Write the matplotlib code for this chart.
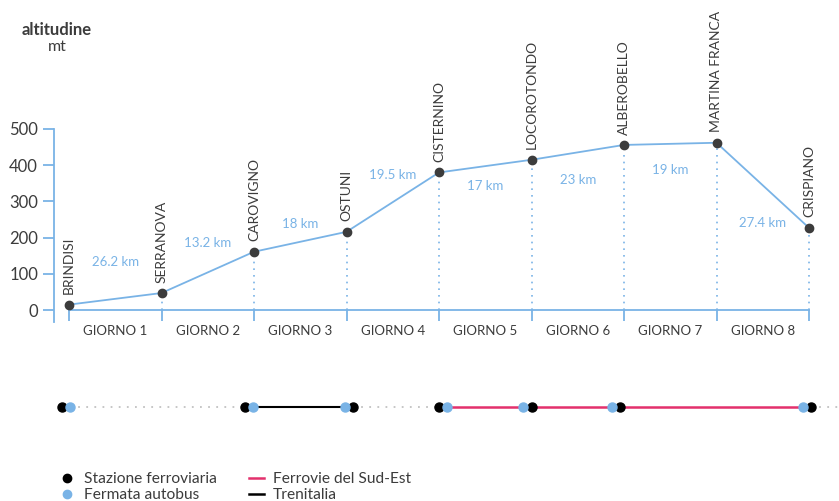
import matplotlib
matplotlib.use("Agg")
import matplotlib.pyplot as plt
from matplotlib.lines import Line2D

plt.rcParams["font.family"] = ["Lato", "DejaVu Sans"]

# --- data -------------------------------------------------------------
stations = ["BRINDISI", "SERRANOVA", "CAROVIGNO", "OSTUNI", "CISTERNINO",
            "LOCOROTONDO", "ALBEROBELLO", "MARTINA FRANCA", "CRISPIANO"]
altitude = [15, 47, 161, 216, 380, 415, 456, 462, 227]
days = ["GIORNO 1", "GIORNO 2", "GIORNO 3", "GIORNO 4",
        "GIORNO 5", "GIORNO 6", "GIORNO 7", "GIORNO 8"]
distances = ["26.2 km", "13.2 km", "18 km", "19.5 km",
             "17 km", "23 km", "19 km", "27.4 km"]
y_ticks = [0, 100, 200, 300, 400, 500]

# transport strip (positions along the same stage axis)
rail_stations = [-0.076, 1.903, 3.070, 4.0, 5.005, 5.957, 8.022]
bus_stops = [0.011, 1.989, 2.984, 4.086, 4.908, 5.870, 7.935]
trenitalia = [(1.989, 2.984)]
sud_est = [(4.086, 7.935)]
walking = [(0.011, 1.903), (3.070, 4.0), (8.022, 8.4)]

# --- style ------------------------------------------------------------
BLUE = "#79b3e6"
DARK = "#3c3c3c"
PINK = "#e3306c"
GREY = "#c2c2c2"

# vertical offsets (points) of the distance labels from segment midpoints
dist_offsets = [26.6, 21, 13, 19.5, -14.1, -19.8, -18.7, -27.2]

W, H = 839, 501
fig = plt.figure(figsize=(W / 100, H / 100), dpi=100)

x0_px, step_px = 69, 92.5
xlim = ((54 - x0_px) / step_px, (839 - x0_px) / step_px)

ax = fig.add_axes([54 / W, (H - 322) / H, 785 / W, 193 / H])
ax.set_xlim(*xlim)
ax.set_ylim(-33, 500)

x = list(range(len(stations)))

# dotted drop lines from each stop to the baseline
ax.vlines(x, 0, altitude, colors=BLUE, linestyles=(0, (1, 3)), lw=1.2)
ax.plot(x, altitude, color=BLUE, lw=1.3, zorder=3)
ax.plot(x, altitude, "o", color=DARK, ms=6, zorder=4)

for xi, name, alt in zip(x, stations, altitude):
    ax.annotate(name, (xi, alt), xytext=(0, 7.5), textcoords="offset points",
                rotation=90, ha="center", va="bottom", fontsize=10,
                color=DARK, annotation_clip=False)

for i, (lab, off) in enumerate(zip(distances, dist_offsets)):
    mid = (altitude[i] + altitude[i + 1]) / 2
    ax.annotate(lab, (i + 0.5, mid), xytext=(0, off), textcoords="offset points",
                ha="center", va="center", fontsize=9.5, color=BLUE,
                annotation_clip=False)

# axes styling
for s in ("top", "right"):
    ax.spines[s].set_visible(False)
ax.spines["left"].set_color(BLUE)
ax.spines["left"].set_linewidth(1.3)
ax.spines["bottom"].set_color(BLUE)
ax.spines["bottom"].set_linewidth(1.3)
ax.spines["bottom"].set_position(("data", 0))
ax.spines["bottom"].set_bounds(0, len(stations) - 1)

ax.set_yticks(y_ticks)
ax.set_yticklabels([str(v) for v in y_ticks])
ax.tick_params(axis="y", direction="out", length=8, width=1.3, color=BLUE,
               pad=3.5, labelsize=12, labelcolor=DARK)

ax.set_xticks(x)
ax.set_xticklabels([])
ax.set_xticks([i + 0.5 for i in range(len(days))], minor=True)
ax.set_xticklabels(days, minor=True)
ax.tick_params(axis="x", which="major", direction="out", length=8, width=1.3,
               color=BLUE)
ax.tick_params(axis="x", which="minor", length=0, pad=11, labelsize=9.5,
               labelcolor=DARK)

fig.text(57 / W, 1 - 30 / H, "altitudine", ha="center", va="center",
         fontsize=12, fontweight="bold", color=DARK)
fig.text(57 / W, 1 - 47 / H, "mt", ha="center", va="center",
         fontsize=11.5, color=DARK)

# --- transport strip --------------------------------------------------
tx = fig.add_axes([54 / W, (H - 417) / H, 785 / W, 20 / H])
tx.set_xlim(*xlim)
tx.set_ylim(-1, 1)
tx.axis("off")
for a, b in walking:
    tx.plot([a, b], [0, 0], color=GREY, lw=1.3, ls=(0, (1, 3.5)), clip_on=False)
for a, b in trenitalia:
    tx.plot([a, b], [0, 0], color="black", lw=1.5)
for a, b in sud_est:
    tx.plot([a, b], [0, 0], color=PINK, lw=1.8)
tx.plot(rail_stations, [0] * len(rail_stations), "o", color="black", ms=6.5,
        zorder=4)
tx.plot(bus_stops, [0] * len(bus_stops), "o", color=BLUE, ms=6.5, zorder=4)

# --- legend -----------------------------------------------------------
handles = [
    Line2D([], [], ls="none", marker="o", color="black", ms=6),
    Line2D([], [], ls="none", marker="o", color=BLUE, ms=6),
    Line2D([], [], color=PINK, lw=1.8),
    Line2D([], [], color="black", lw=1.8),
]
labels = ["Stazione ferroviaria", "Fermata autobus",
          "Ferrovie del Sud-Est", "Trenitalia"]
fig.legend(handles, labels, ncol=2, loc="upper left",
           bbox_to_anchor=(60 / W, 1 - 472 / H), frameon=False,
           fontsize=11.2, handlelength=0.95, handletextpad=0.6,
           columnspacing=2.05, labelspacing=0.15, borderpad=0,
           borderaxespad=0, labelcolor=DARK)

fig.savefig("out.png", dpi=100)
